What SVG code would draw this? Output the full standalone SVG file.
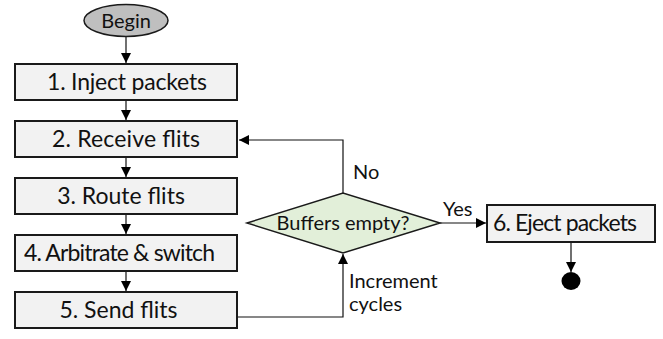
<svg xmlns="http://www.w3.org/2000/svg" width="663" height="339" viewBox="0 0 663 339">
  <style>
    .step { fill: #f2f2f2; stroke: #1a1a1a; stroke-width: 2; }
    .label { font-family: Lato, "Liberation Sans", sans-serif; font-size: 20px; fill: #111; }
    .big { font-size: 23px; }
    .mid { text-anchor: middle; }
    .wire { fill: none; stroke: #111; stroke-width: 1.2; }
  </style>
  <defs>
    <marker id="tip" viewBox="0 0 10 10" refX="10" refY="5" markerWidth="10" markerHeight="10" markerUnits="userSpaceOnUse" orient="auto">
      <path d="M0,0 L10,5 L0,10 Z" fill="#000"/>
    </marker>
  </defs>

  <rect width="663" height="339" fill="#fff"/>

  <g id="connectors">
    <line class="wire" x1="126" y1="37" x2="126" y2="63" marker-end="url(#tip)"/>
    <line class="wire" x1="126" y1="100" x2="126" y2="120" marker-end="url(#tip)"/>
    <line class="wire" x1="126" y1="157" x2="126" y2="177" marker-end="url(#tip)"/>
    <line class="wire" x1="126" y1="214" x2="126" y2="234" marker-end="url(#tip)"/>
    <line class="wire" x1="126" y1="271" x2="126" y2="291" marker-end="url(#tip)"/>
    <!-- loop back when buffers still hold flits -->
    <polyline class="wire" points="343,193 343,140 239,140" marker-end="url(#tip)"/>
    <!-- send flits feeds the check -->
    <polyline class="wire" points="238,317 343,317 343,254" marker-end="url(#tip)"/>
    <line class="wire" x1="440" y1="223" x2="486" y2="223" marker-end="url(#tip)"/>
    <line class="wire" x1="571" y1="242" x2="571" y2="272" marker-end="url(#tip)"/>
    <text class="label" x="353" y="179">No</text>
    <text class="label" x="443" y="216">Yes</text>
    <text class="label" x="349" y="288">Increment</text>
    <text class="label" x="349" y="311">cycles</text>
  </g>

  <g id="begin">
    <ellipse cx="126" cy="20.5" rx="42" ry="16" fill="#bfbfbf" stroke="#1a1a1a" stroke-width="1.5"/>
    <text class="label mid" x="126" y="28">Begin</text>
  </g>

  <g id="inject">
    <rect class="step" x="15" y="64" width="222" height="36"/>
    <text class="label big mid" x="127" y="90" textLength="160" lengthAdjust="spacing">1. Inject packets</text>
  </g>
  <g id="receive">
    <rect class="step" x="15" y="121" width="222" height="36"/>
    <text class="label big mid" x="126" y="147" textLength="148" lengthAdjust="spacing">2. Receive flits</text>
  </g>
  <g id="route">
    <rect class="step" x="15" y="178" width="222" height="36"/>
    <text class="label big mid" x="121" y="204">3. Route flits</text>
  </g>
  <g id="arbitrate">
    <rect class="step" x="15" y="235" width="222" height="36"/>
    <text class="label big mid" x="119.5" y="261" font-size="22" textLength="191" lengthAdjust="spacing">4. Arbitrate &amp; switch</text>
  </g>
  <g id="send">
    <rect class="step" x="15" y="292" width="222" height="36"/>
    <text class="label big mid" x="118.5" y="318">5. Send flits</text>
  </g>

  <g id="check">
    <polygon points="247,223 343,193 440,223 343,253" fill="#e2efd9" stroke="#1a1a1a" stroke-width="1.5"/>
    <text class="label mid" x="343" y="230">Buffers empty?</text>
  </g>

  <g id="eject">
    <rect class="step" x="487" y="205" width="168" height="37"/>
    <text class="label big mid" x="565" y="231" textLength="144" lengthAdjust="spacing">6. Eject packets</text>
  </g>

  <g id="end">
    <ellipse cx="571" cy="281" rx="9.5" ry="9" fill="#000"/>
  </g>
</svg>
